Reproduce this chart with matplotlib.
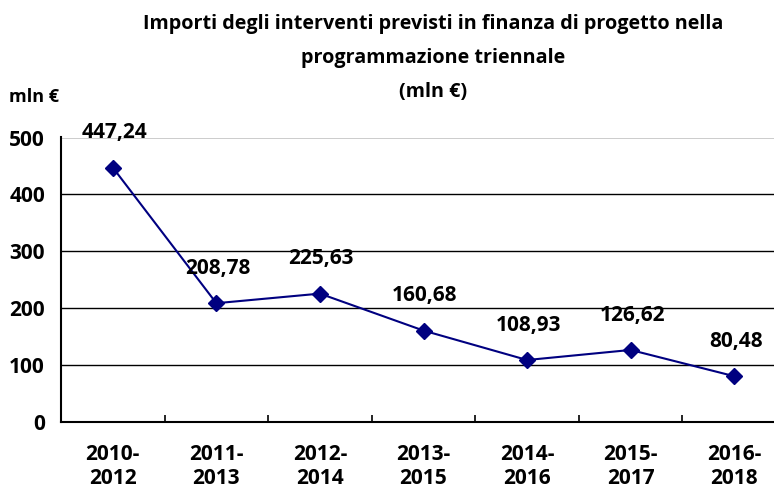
import matplotlib
matplotlib.use("Agg")
import matplotlib.pyplot as plt

periods = ["2010-\n2012", "2011-\n2013", "2012-\n2014", "2013-\n2015",
           "2014-\n2016", "2015-\n2017", "2016-\n2018"]
amounts = [447.24, 208.78, 225.63, 160.68, 108.93, 126.62, 80.48]
y_ticks = [0, 100, 200, 300, 400, 500]

plt.rcParams['font.family'] = ['Open Sans', 'DejaVu Sans']
plt.rcParams['font.weight'] = 'bold'

fig = plt.figure(figsize=(7.74, 4.90), dpi=100)
# plot area runs a little past the right edge, as in the original
ax = fig.add_axes([61 / 774, 1 - 422 / 490, 725 / 774, 284.5 / 490])

x = list(range(len(amounts)))
ax.plot(x, amounts, color='#000080', lw=1.5, marker='D', markersize=8,
        markerfacecolor='#000080', markeredgecolor='#000080', zorder=3)

for xi, v in zip(x, amounts):
    label = f"{v:.2f}".replace('.', ',')
    ax.annotate(label, (xi, v), xytext=(1, 25), textcoords='offset points',
                ha='center', va='center', fontsize=15, fontweight='bold',
                color='black', zorder=4)

ax.set_xlim(-0.5, len(amounts) - 0.5)
ax.set_ylim(0, 500)
ax.set_yticks(y_ticks)
ax.set_yticklabels([str(t) for t in y_ticks], fontsize=15, fontweight='bold')
ax.set_xticks(x)
ax.set_xticklabels(periods, fontsize=15, fontweight='bold', linespacing=1.2)
ax.set_xticks([i + 0.5 for i in range(len(amounts) - 1)], minor=True)
ax.tick_params(axis='x', which='major', length=0, pad=16)
ax.tick_params(axis='x', which='minor', direction='in', length=5, width=1.2)
ax.tick_params(axis='y', length=0, pad=11.5)

ax.grid(axis='y', color='black', lw=1)
ax.set_axisbelow(True)
for s in ['top', 'right']:
    ax.spines[s].set_visible(False)
for s in ['left', 'bottom']:
    ax.spines[s].set_linewidth(1.5)
    ax.spines[s].set_color('black')

fig.text(433 / 774, 1 - 58 / 490,
         "Importi degli interventi previsti in finanza di progetto nella\n"
         "programmazione triennale\n(mln €)",
         ha='center', va='center', fontsize=14.2, fontweight='bold',
         linespacing=1.95)
fig.text(34 / 774, 1 - 97 / 490, "mln €", ha='center', va='center',
         fontsize=13, fontweight='bold')

fig.savefig("out.png", dpi=100)
